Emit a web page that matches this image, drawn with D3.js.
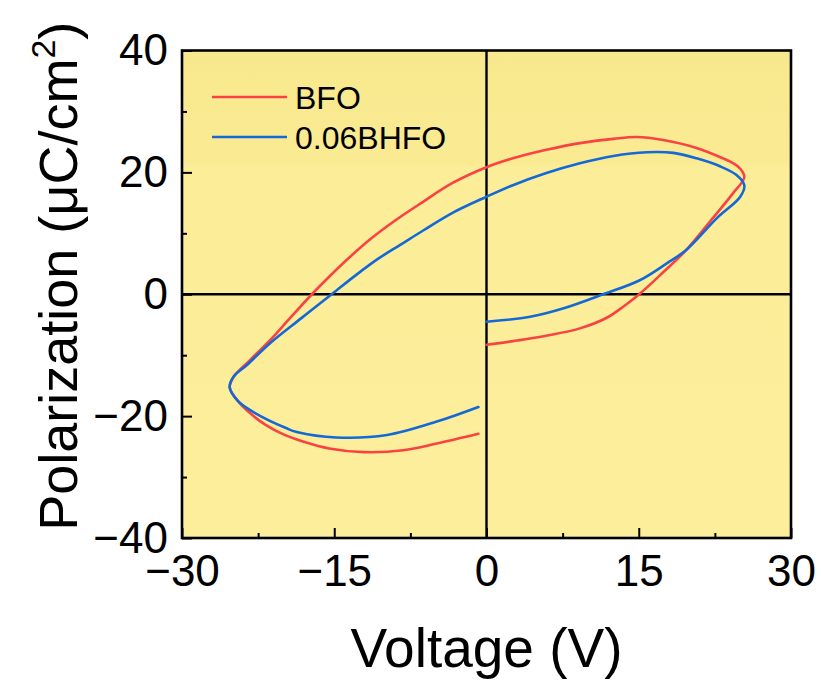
<!DOCTYPE html>
<html>
<head>
<meta charset="utf-8">
<script src="https://cdn.jsdelivr.net/npm/d3@7"></script>
<style>
  html, body { margin: 0; padding: 0; background: #ffffff; }
  svg { display: block; font-family: Arial, "Liberation Sans", sans-serif; }
</style>
</head>
<body>
<svg id="chart" width="821" height="682"></svg>
<script>
// ---------- data ----------
const seriesNames = ["BFO", "0.06BHFO"];
const seriesColors = ["#F94343", "#1469D6"];

// BFO loop, in measuring order (V, µC/cm²)
const bfoV = [0, 3, 5.9, 9.2, 11.8, 13.5, 15.05, 17.4, 19.7, 22.3, 24.3, 25.4, 25.0, 24.3, 23.3, 20.7, 17.4, 14.8, 12.5, 9.2, 5.9, 2.6, 0, -3.3, -6.4, -9.0, -11.4, -13.6, -15.6, -17.2, -19.3, -21.3, -23.3, -24.9, -25.3, -24.5, -23.3, -21.8, -20.0, -18.0, -15.5, -12.1, -8.2, -4.9, -0.8];
const bfoP = [-8.3, -7.6, -6.8, -5.6, -3.9, -2.0, 0, 3.6, 7.3, 12.5, 16.6, 19.2, 20.6, 21.5, 22.3, 24.0, 25.3, 25.8, 25.5, 24.8, 23.7, 22.3, 20.85, 18.3, 15.0, 12.1, 9.1, 5.9, 2.7, 0, -3.8, -7.5, -10.8, -13.5, -15.3, -17.5, -19.5, -21.4, -23.0, -24.2, -25.3, -25.9, -25.6, -24.5, -22.9];

// 0.06BHFO loop
const bhfoV = [0, 4.3, 7.6, 11.5, 15.1, 17.8, 19.7, 22.7, 25.0, 25.4, 24.6, 23.0, 20.7, 18.4, 15.8, 12.5, 9.2, 5.9, 2.6, 0, -3.3, -6.2, -8.5, -10.7, -12.9, -15.25, -18.3, -21.3, -23.6, -24.9, -25.3, -24.5, -23.0, -19.7, -18.7, -14.8, -9.8, -4.9, -0.8];
const bhfoP = [-4.5, -3.7, -2.3, 0, 2.3, 5.1, 7.3, 12.5, 16.0, 17.9, 19.6, 21.0, 22.3, 23.2, 23.3, 22.7, 21.5, 19.9, 17.9, 16.0, 13.4, 10.5, 8.1, 5.8, 3.1, 0, -4.0, -8.0, -11.6, -13.5, -15.3, -17.5, -19.3, -22.0, -22.6, -23.5, -23.1, -20.9, -18.5];

const xTicks = [-30, -15, 0, 15, 30];
const xMinorTicks = [-22.5, -7.5, 7.5, 22.5];
const yTicks = [-40, -20, 0, 20, 40];
const yMinorTicks = [-30, -10, 10, 30];
const xTitle = "Voltage (V)";
const yTitleMain = "Polarization (μC/cm";
const yTitleSup = "2";
const yTitleEnd = ")";

// ---------- layout ----------
const svg = d3.select("#chart");
const L = 182, R = 791, T = 50.5, B = 538;

const x = d3.scaleLinear().domain([-30, 30]).range([L, R]);
const y = d3.scaleLinear().domain([-40, 40]).range([B, T]);

// background with faint banding like the reference
const defs = svg.append("defs");
const grad = defs.append("linearGradient").attr("id", "bg").attr("x1", 0).attr("y1", 0).attr("x2", 0).attr("y2", 1);
grad.append("stop").attr("offset", "0%").attr("stop-color", "#F8E88D");
grad.append("stop").attr("offset", "23%").attr("stop-color", "#FAEB93");
grad.append("stop").attr("offset", "24%").attr("stop-color", "#FCED99");
grad.append("stop").attr("offset", "100%").attr("stop-color", "#FCEE9A");

svg.append("rect")
  .attr("x", L).attr("y", T).attr("width", R - L).attr("height", B - T)
  .attr("fill", "url(#bg)");

// zero lines
svg.append("line").attr("x1", x(0)).attr("x2", x(0)).attr("y1", T).attr("y2", B)
  .attr("stroke", "#000").attr("stroke-width", 2.4);
svg.append("line").attr("x1", L).attr("x2", R).attr("y1", y(0)).attr("y2", y(0))
  .attr("stroke", "#000").attr("stroke-width", 2.4);

// curves
const line = d3.line()
  .x(d => x(d[0])).y(d => y(d[1]))
  .curve(d3.curveCatmullRom.alpha(0.5));

const series = [
  d3.zip(bfoV, bfoP),
  d3.zip(bhfoV, bhfoP)
];
series.forEach((pts, i) => {
  svg.append("path")
    .datum(pts)
    .attr("d", line)
    .attr("fill", "none")
    .attr("stroke", seriesColors[i])
    .attr("stroke-width", 2.6)
    .attr("stroke-linejoin", "round")
    .attr("stroke-linecap", "round");
});

// axes (ticks inside)
const xAxis = d3.axisBottom(x).tickValues(xTicks).tickSize(-10).tickPadding(17)
  .tickFormat(d => d < 0 ? "\u2212" + Math.abs(d) : String(d));
const gx = svg.append("g").attr("transform", `translate(0,${B})`).call(xAxis);
gx.select(".domain").remove();
gx.selectAll(".tick line").attr("stroke", "#000").attr("stroke-width", 2);
gx.selectAll(".tick text").attr("font-size", 44).attr("fill", "#000")
  .attr("font-family", "Arial, 'Liberation Sans', sans-serif");

const xMinor = d3.axisBottom(x).tickValues(xMinorTicks).tickSize(-5).tickFormat("");
const gxm = svg.append("g").attr("transform", `translate(0,${B})`).call(xMinor);
gxm.select(".domain").remove();
gxm.selectAll(".tick line").attr("stroke", "#000").attr("stroke-width", 2);

const yAxis = d3.axisLeft(y).tickValues(yTicks).tickSize(-10).tickPadding(14)
  .tickFormat(d => d < 0 ? "\u2212" + Math.abs(d) : String(d));
const gy = svg.append("g").attr("transform", `translate(${L},0)`).call(yAxis);
gy.select(".domain").remove();
gy.selectAll(".tick line").attr("stroke", "#000").attr("stroke-width", 2);
gy.selectAll(".tick text").attr("font-size", 44).attr("fill", "#000")
  .attr("font-family", "Arial, 'Liberation Sans', sans-serif");

const yMinor = d3.axisLeft(y).tickValues(yMinorTicks).tickSize(-5).tickFormat("");
const gym = svg.append("g").attr("transform", `translate(${L},0)`).call(yMinor);
gym.select(".domain").remove();
gym.selectAll(".tick line").attr("stroke", "#000").attr("stroke-width", 2);

// frame
svg.append("rect")
  .attr("x", L).attr("y", T).attr("width", R - L).attr("height", B - T)
  .attr("fill", "none").attr("stroke", "#000").attr("stroke-width", 2.6);

// axis titles
svg.append("text")
  .attr("x", (L + R) / 2).attr("y", 667)
  .attr("text-anchor", "middle")
  .attr("font-size", 55).attr("fill", "#000")
  .text(xTitle);

const yt = svg.append("text")
  .attr("transform", `translate(77,${(T + B) / 2 - 18}) rotate(-90)`)
  .attr("text-anchor", "middle")
  .attr("font-size", 54).attr("fill", "#000");
yt.append("tspan").text(yTitleMain);
yt.append("tspan").attr("font-size", 34).attr("dy", -22).text(yTitleSup);
yt.append("tspan").attr("dy", 22).text(yTitleEnd);

// legend
const legY = [97, 137];
seriesNames.forEach((name, i) => {
  svg.append("line")
    .attr("x1", 212).attr("x2", 287).attr("y1", legY[i]).attr("y2", legY[i])
    .attr("stroke", seriesColors[i]).attr("stroke-width", 2.6);
  svg.append("text")
    .attr("x", 295).attr("y", legY[i] + 11.5)
    .attr("font-size", 32).attr("fill", "#000")
    .text(name);
});
</script>
</body>
</html>
